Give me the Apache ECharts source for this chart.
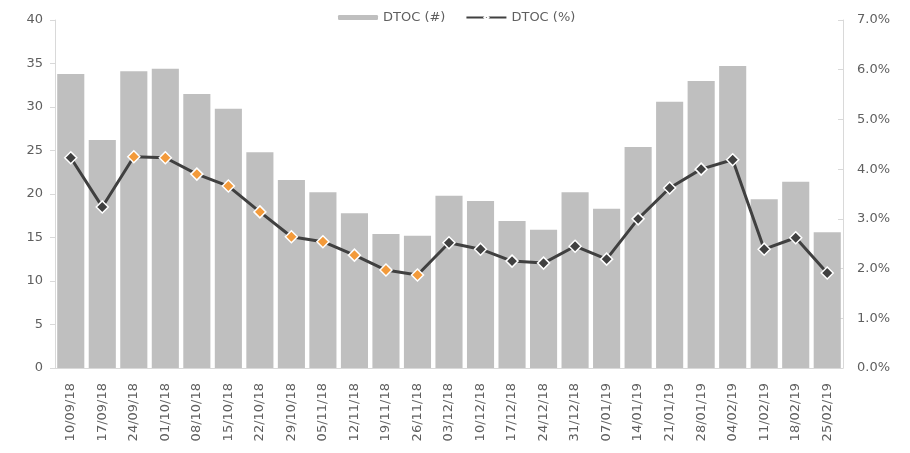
<!DOCTYPE html>
<html>
<head>
<meta charset="utf-8">
<script src="https://cdn.jsdelivr.net/npm/echarts@6/dist/echarts.min.js"></script>
<style>
  html, body { margin: 0; padding: 0; background: #fff; }
  #chart { width: 910px; height: 453px; }
</style>
</head>
<body>
<div id="chart"></div>
<script>
  // weeks (x axis)
  const weeks = ['10/09/18', '17/09/18', '24/09/18', '01/10/18', '08/10/18', '15/10/18', '22/10/18',
    '29/10/18', '05/11/18', '12/11/18', '19/11/18', '26/11/18', '03/12/18', '10/12/18', '17/12/18',
    '24/12/18', '31/12/18', '07/01/19', '14/01/19', '21/01/19', '28/01/19', '04/02/19', '11/02/19',
    '18/02/19', '25/02/19']

  // DTOC (#) - bars, left axis
  const dtocCount = [33.8, 26.2, 34.1, 34.4, 31.5, 29.8, 24.8, 21.6, 20.2, 17.8, 15.4, 15.2, 19.8,
    19.2, 16.9, 15.9, 20.2, 18.3, 25.4, 30.6, 33.0, 34.7, 19.4, 21.4, 15.6]

  // DTOC (%) - line, right axis
  const dtocPct = [4.23, 3.24, 4.25, 4.23, 3.90, 3.66, 3.14, 2.64, 2.54, 2.27, 1.97, 1.87, 2.52,
    2.39, 2.15, 2.11, 2.45, 2.19, 3.00, 3.62, 4.00, 4.19, 2.39, 2.62, 1.91]

  // weeks whose marker is drawn in orange
  const highlightWeeks = ['24/09/18', '01/10/18', '08/10/18', '15/10/18', '22/10/18', '29/10/18',
    '05/11/18', '12/11/18', '19/11/18', '26/11/18']

  const leftTicks = {min: 0, max: 40, interval: 5}
  const rightTicks = {min: 0, max: 7, interval: 1}

  const textColor = '#5f5f5f'
  const axisColor = '#d9d9d9'
  const fontFamily = 'DejaVu Sans'

  const chart = echarts.init(document.getElementById('chart'))

  const pctData = dtocPct.map((v, i) => {
    const orange = highlightWeeks.indexOf(weeks[i]) >= 0
    return {
      value: v,
      itemStyle: {color: orange ? '#f39a3a' : '#404040'}
    }
  })

  chart.setOption({
    animation: false,
    textStyle: {fontFamily: fontFamily},
    legend: {
      top: 6,
      left: 333,
      itemWidth: 40,
      itemHeight: 5,
      itemGap: 20,
      textStyle: {color: textColor, fontSize: 13, fontFamily: fontFamily},
      data: ['DTOC (#)', 'DTOC (%)']
    },
    grid: {
      left: 55,
      right: 67,
      top: 20,
      bottom: 85
    },
    xAxis: {
      type: 'category',
      data: weeks,
      axisLine: {lineStyle: {color: axisColor}},
      axisTick: {lineStyle: {color: axisColor}, length: 5},
      axisLabel: {
        color: textColor,
        fontSize: 13,
        rotate: 90,
        interval: 0,
        margin: 15
      }
    },
    yAxis: [
      {
        type: 'value',
        min: leftTicks.min,
        max: leftTicks.max,
        interval: leftTicks.interval,
        splitLine: {show: false},
        axisLine: {show: true, lineStyle: {color: axisColor}},
        axisTick: {show: true, lineStyle: {color: axisColor}, length: 5},
        axisLabel: {color: textColor, fontSize: 13, margin: 12}
      },
      {
        type: 'value',
        position: 'right',
        min: rightTicks.min,
        max: rightTicks.max,
        interval: rightTicks.interval,
        splitLine: {show: false},
        axisLine: {show: true, lineStyle: {color: axisColor}},
        axisTick: {show: true, inside: true, lineStyle: {color: axisColor}, length: 5},
        axisLabel: {
          color: textColor,
          fontSize: 13,
          margin: 14,
          formatter: v => v.toFixed(1) + '%'
        }
      }
    ],
    series: [
      {
        name: 'DTOC (#)',
        type: 'bar',
        yAxisIndex: 0,
        barCategoryGap: '14%',
        itemStyle: {color: '#bfbfbf'},
        data: dtocCount
      },
      {
        name: 'DTOC (%)',
        type: 'line',
        yAxisIndex: 1,
        symbol: 'diamond',
        symbolSize: 12,
        lineStyle: {color: '#404040', width: 3},
        itemStyle: {color: '#404040', borderColor: '#fff', borderWidth: 1.5},
        data: pctData
      }
    ]
  })
</script>
</body>
</html>
